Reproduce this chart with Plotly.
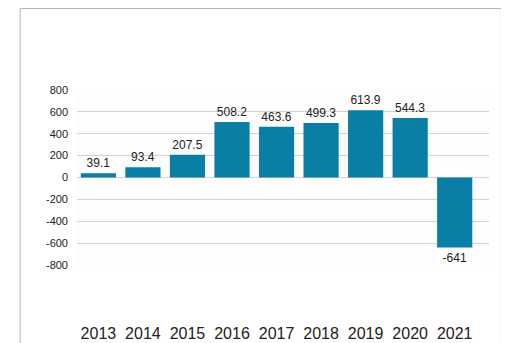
import plotly.graph_objects as go

years = ["2013", "2014", "2015", "2016", "2017", "2018", "2019", "2020", "2021"]
values = [39.1, 93.4, 207.5, 508.2, 463.6, 499.3, 613.9, 544.3, -641]
labels = ["39.1", "93.4", "207.5", "508.2", "463.6", "499.3", "613.9", "544.3", "-641"]
y_ticks = [800, 600, 400, 200, 0, -200, -400, -600, -800]

fig = go.Figure(go.Bar(
    x=years, y=values, text=labels, textposition="outside",
    textfont=dict(family="Liberation Sans, Arial", size=12, color="#222"),
    marker=dict(color="#0a7fa6", line=dict(width=0)),
    width=0.79, cliponaxis=False,
))

border = dict(color="#b5b5b5", width=1)
x_left, x_right, y_top, y_bot = -0.138, 1.03, 1.4657, -0.6

# page body has 8px default margin, so figure is 8px smaller and offset
fig.update_layout(
    width=501, height=335,
    margin=dict(l=69, r=20, t=82, b=78, autoexpand=False),
    paper_bgcolor="white", plot_bgcolor="#fdfdfd",
    showlegend=False,
    font=dict(family="Liberation Sans, Arial", color="#222"),
    xaxis=dict(type="category", range=[-0.48, 8.77], showgrid=False, zeroline=False,
               automargin=False,
               ticks="", tickfont=dict(size=16, color="#222"), ticklabelstandoff=57),
    yaxis=dict(range=[-800, 800], tickvals=y_ticks, ticktext=[str(v) for v in y_ticks],
               automargin=False,
               showgrid=True, gridcolor="#d3d3d3", gridwidth=1, zeroline=False,
               tickfont=dict(size=11, color="#222"), ticklabelstandoff=8),
    shapes=[
        dict(type="line", xref="paper", yref="paper", x0=x_left, x1=x_left, y0=y_bot, y1=y_top, line=border),
        dict(type="line", xref="paper", yref="paper", x0=x_right, x1=x_right, y0=y_bot, y1=y_top, line=border),
        dict(type="line", xref="paper", yref="paper", x0=x_left, x1=x_right, y0=y_top, y1=y_top, line=border),
    ],
)

fig.write_html("out.html")
